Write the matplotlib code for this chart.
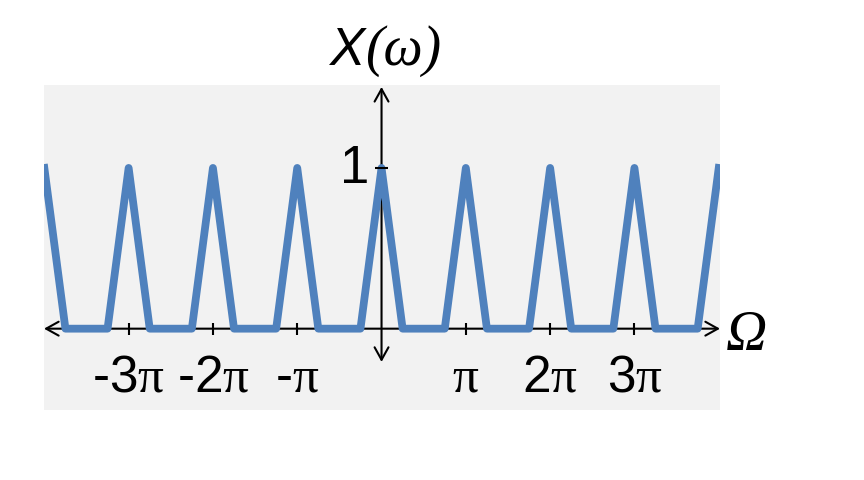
import matplotlib.pyplot as plt

plt.rcParams['mathtext.fontset'] = 'custom'
plt.rcParams['mathtext.rm'] = 'Liberation Serif'

# spectrum vertices, omega in units of pi
omega_pi = [-4, -3.75, -3.25, -3, -2.75, -2.25, -2, -1.75, -1.25, -1, -0.75, -0.25,
            0, 0.25, 0.75, 1, 1.25, 1.75, 2, 2.25, 2.75, 3, 3.25, 3.75, 4]
x_mag = [1, 0, 0, 1, 0, 0, 1, 0, 0, 1, 0, 0,
         1, 0, 0, 1, 0, 0, 1, 0, 0, 1, 0, 0, 1]

tick_pos = [-3, -2, -1, 1, 2, 3]
tick_labels = ['-3π', '-2π', '-π', 'π', '2π', '3π']
ytick_pos = [1]
ytick_labels = ['1']

xmin, xmax = -4.004, 4.015
ymin, ymax = -0.506, 1.516

fig = plt.figure(figsize=(8.64, 4.8), dpi=100)
ax = fig.add_axes([44 / 864, 70 / 480, 676 / 864, 325 / 480])
ax.set_facecolor('#f2f2f2')
for s in ax.spines.values():
    s.set_visible(False)
ax.set_xticks([])
ax.set_yticks([])
ax.set_xlim(xmin, xmax)
ax.set_ylim(ymin, ymax)

# axes with arrows
arrow = dict(arrowstyle='<->, head_length=0.45, head_width=0.25', lw=1.5,
             color='black', shrinkA=0, shrinkB=0, mutation_scale=20)
ax.annotate('', xy=(xmax, 0), xytext=(xmin, 0), arrowprops=arrow,
            annotation_clip=False, zorder=1)
ax.annotate('', xy=(0, 1.504), xytext=(0, -0.207), arrowprops=arrow,
            annotation_clip=False, zorder=1)

ax.plot(omega_pi, x_mag, color='#4f81bd', lw=5.6, zorder=2,
        solid_joinstyle='round', clip_on=True)

# small ticks
ax.vlines(tick_pos, -0.038, 0.038, color='black', lw=1.5, zorder=3)
ax.hlines(ytick_pos, -0.077, 0.077, color='black', lw=1.5, zorder=3)

for p, lbl in zip(tick_pos, tick_labels):
    ax.text(p, -0.394, lbl.replace('π', r'$\mathrm{\pi}$'), ha='center',
            va='baseline', fontsize=37, family='Liberation Sans')
for p, lbl in zip(ytick_pos, ytick_labels):
    ax.text(-0.15, p - 0.093, lbl, ha='right', va='baseline', fontsize=38,
            family='Liberation Sans')

# axis names
ax.text(-0.19, 1.64, 'X', ha='right', va='baseline', fontsize=38,
        family='Liberation Sans', style='italic', clip_on=False)
ax.text(-0.19, 1.64, '(ω)', ha='left', va='baseline', fontsize=40,
        family='Liberation Serif', style='italic', clip_on=False)
ax.text(4.08, -0.133, 'Ω', ha='left', va='baseline', fontsize=41,
        family='Liberation Serif', style='italic', clip_on=False)

fig.savefig('out.png', dpi=100)
